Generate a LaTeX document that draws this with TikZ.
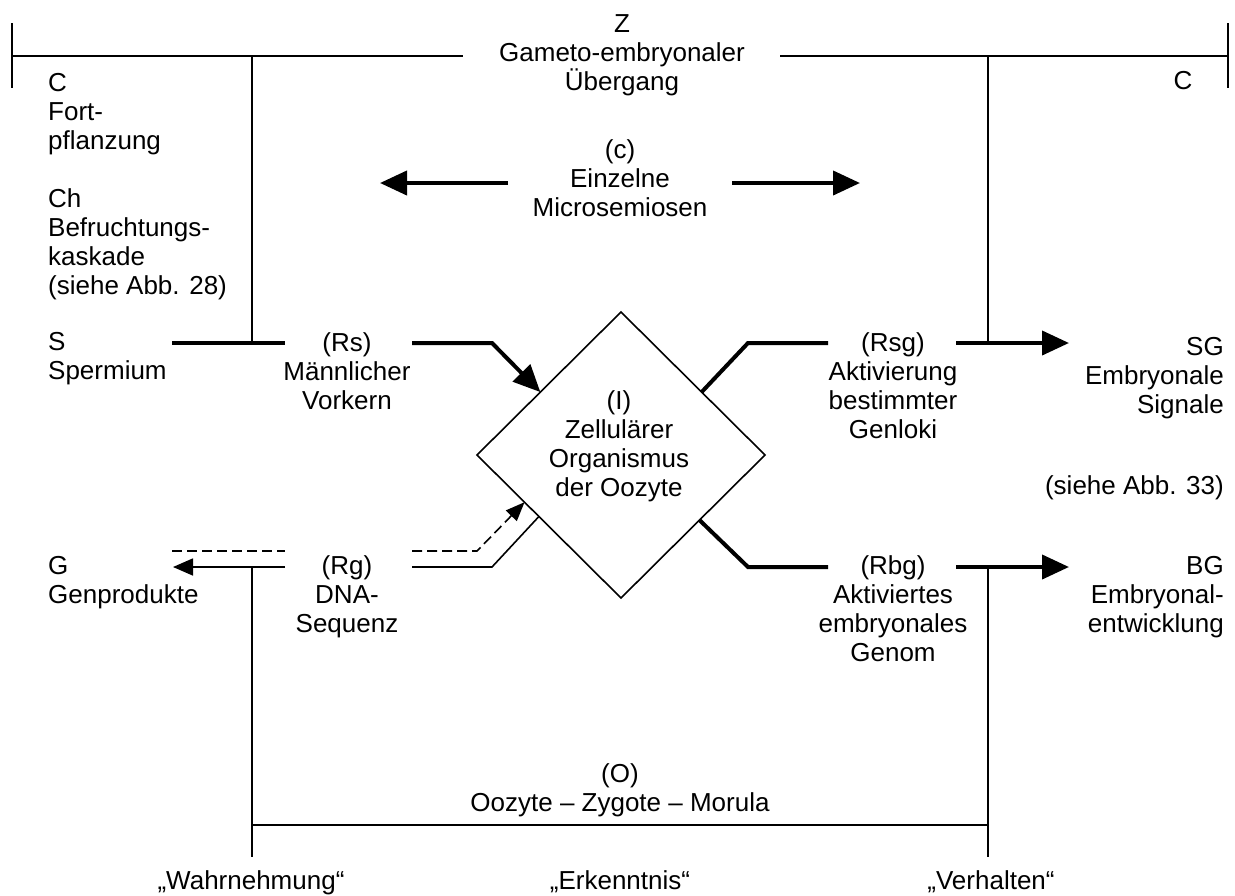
\documentclass[tikz,border=0pt]{standalone}
\usepackage{fontspec}
\setmainfont{Liberation Sans}
\usetikzlibrary{arrows.meta,shapes.geometric,calc}
% strut that fixes the height of the first text line of every label
\newcommand\fstrut{\rule{0pt}{22pt}}
\tikzset{
  txt/.style={font=\fontsize{26}{29}\selectfont, inner sep=0pt, anchor=north,
              yshift=12.7pt, align=center},
  ltxt/.style={txt, anchor=north west, align=left},
  rtxt/.style={txt, anchor=north east, align=right},
  fine/.style={line width=1.6pt},
  heavy/.style={line width=4pt},
  bigtip/.style={-{Triangle[length=27pt,width=24pt]}},
  smalltip/.style={-{Triangle[length=20pt,width=17pt]}},
  dashtip/.style={-{Triangle[length=19pt,width=15pt]}},
  dashline/.style={fine, dash pattern=on 10pt off 5pt},
}
\begin{document}
\begin{tikzpicture}[x=1pt,y=-1pt]
\useasboundingbox (0,0) rectangle (1235,895);

% ---- labels ----
\node[txt]  (Z)    at (622,23)  {\fstrut Z\\Gameto-embryonaler\\Übergang};
\node[ltxt] (C)    at (48,82)   {\fstrut C\\Fort-\\pflanzung};
\node[txt]  (Cr)   at (1183,80) {\fstrut C};
\node[ltxt] (Ch)   at (48,198)  {\fstrut Ch\\Befruchtungs-\\kaskade\\(siehe Abb. 28)};
\node[ltxt] (S)    at (48,341)  {\fstrut S\\Spermium};
\node[ltxt] (G)    at (48,565)  {\fstrut G\\Genprodukte};
\node[txt]  (c)    at (620,149) {\fstrut (c)\\Einzelne\\Microsemiosen};
\node[txt]  (Rs)   at (347,342) {\fstrut (Rs)\\Männlicher\\Vorkern};
\node[txt]  (Rg)   at (347,565) {\fstrut (Rg)\\DNA-\\Sequenz};
\node[txt]  (Rsg)  at (893,342) {\fstrut (Rsg)\\Aktivierung\\bestimmter\\Genloki};
\node[txt]  (Rbg)  at (893,565) {\fstrut (Rbg)\\Aktiviertes\\embryonales\\Genom};
\node[rtxt] (SG)   at (1224,346) {\fstrut SG\\Embryonale\\Signale};
\node[rtxt] (see)  at (1224,485) {\fstrut (siehe Abb. 33)};
\node[rtxt] (BG)   at (1224,565) {\fstrut BG\\Embryonal-\\entwicklung};
\node[txt]  (O)    at (620,773) {\fstrut (O)\\Oozyte – Zygote – Morula};
\node[txt]  (wahr) at (251,880) {\fstrut „Wahrnehmung“};
\node[txt]  (erk)  at (620,880) {\fstrut „Erkenntnis“};
\node[txt]  (verh) at (991,880) {\fstrut „Verhalten“};

% ---- the cell: diamond ----
\node[draw, fine, diamond, inner sep=0pt, outer sep=0pt,
      minimum width=288pt, minimum height=286pt] (dia) at (621,455) {};
\node[txt] (I) at (619,400) {\fstrut (I)\\Zellulärer\\Organismus\\der Oozyte};

% ---- junction points ----
\coordinate (tlu) at (12,23);   \coordinate (tld) at (12,88);
\coordinate (tru) at (1228,23); \coordinate (trd) at (1228,88);
\coordinate (tl)  at (12,56);   \coordinate (zl)  at (463,56);
\coordinate (zr)  at (780,56);  \coordinate (tr)  at (1228,56);
\coordinate (jl)  at (252,56);  \coordinate (jr)  at (988,56);
\coordinate (sa)  at (172,343); \coordinate (sb)  at (285,343);
\coordinate (sj)  at (252,343);
\coordinate (rsa) at (412,343); \coordinate (rsb) at (492,343);
\coordinate (sga) at (748,343); \coordinate (sgb) at (828,343);
\coordinate (sgc) at (956,343); \coordinate (sgd) at (1069,343);
\coordinate (sgj) at (988,343);
\coordinate (bga) at (748,567); \coordinate (bgb) at (828,567);
\coordinate (bgc) at (956,567); \coordinate (bgd) at (1069,567);
\coordinate (bgj) at (988,567);
\coordinate (rga) at (492,567); \coordinate (rgb) at (412,567);
\coordinate (rda) at (477,551); \coordinate (rdb) at (412,551);
\coordinate (ga)  at (285,567); \coordinate (gb)  at (173,567);
\coordinate (gda) at (172,551); \coordinate (gdb) at (285,551);
\coordinate (gj)  at (252,567);
\coordinate (ol)  at (252,825); \coordinate (or)  at (988,825);
\coordinate (oll) at (252,857); \coordinate (orl) at (988,857);
\coordinate (cla) at (508,183); \coordinate (clb) at (380,183);
\coordinate (cra) at (732,183); \coordinate (crb) at (860,183);

% ---- frame of the transition ----
\draw[fine] (tlu) -- (tld);
\draw[fine] (tru) -- (trd);
\draw[fine] (tl) -- (zl);
\draw[fine] (zr) -- (tr);
\draw[fine] (jl) -- (sj);
\draw[fine] (jr) -- (sgj);

% ---- single microsemioses ----
\draw[heavy, bigtip] (cla) -- (clb);
\draw[heavy, bigtip] (cra) -- (crb);

% ---- sperm / male pronucleus ----
\draw[heavy] (sa) -- (sb);
\draw[heavy, bigtip] (rsa) -- (rsb) -- ($(dia.west)!0.44!(dia.north)$);

% ---- outputs of the cell ----
\draw[heavy] ($(dia.north)!0.56!(dia.east)$) -- (sga) -- (sgb);
\draw[heavy, bigtip] (sgc) -- (sgd);
\draw[heavy] ($(dia.east)!0.455!(dia.south)$) -- (bga) -- (bgb);
\draw[heavy, bigtip] (bgc) -- (bgd);

% ---- DNA sequence / gene products ----
\draw[fine] ($(dia.west)!0.43!(dia.south)$) -- (rga) -- (rgb);
\draw[dashline, dashtip] (rdb) -- (rda) -- ($(dia.west)!0.33!(dia.south)$);
\draw[fine, smalltip] (ga) -- (gb);
\draw[dashline] (gda) -- (gdb);

% ---- organism frame ----
\draw[fine] (gj) -- (oll);
\draw[fine] (bgj) -- (orl);
\draw[fine] (ol) -- (or);
\end{tikzpicture}
\end{document}
